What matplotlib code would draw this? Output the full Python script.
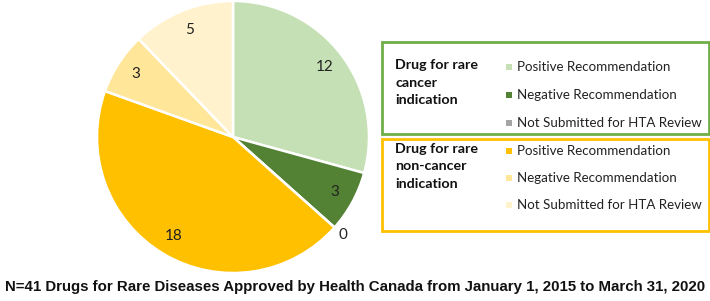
import matplotlib.pyplot as plt
from matplotlib.patches import Rectangle
import numpy as np

# slices, clockwise from 12 o'clock
values = [12, 3, 0, 18, 3, 5]
colors = ['#C5E0B4', '#548235', '#A5A5A5', '#FFC000', '#FFE699', '#FFF2CC']
groups = ['Drug for rare\ncancer\nindication', 'Drug for rare\nnon-cancer\nindication']
categories = ['Positive Recommendation', 'Negative Recommendation', 'Not Submitted for HTA Review']
box_colors = ['#70AD47', '#FFC000']
title = 'N=41 Drugs for Rare Diseases Approved by Health Canada from January 1, 2015 to March 31, 2020'

W, H = 710, 301
fig = plt.figure(figsize=(W / 100, H / 100), dpi=100)

# pie axes: center (233,137) px, radius 136 px
cx, cy, r = 233, 137, 136
ax = fig.add_axes([(cx - r) / W, (H - cy - r) / H, 2 * r / W, 2 * r / H])
wedges, texts = ax.pie(values, colors=colors, startangle=90, counterclock=False,
                       labels=[str(v) for v in values], labeldistance=0.85,
                       wedgeprops=dict(edgecolor='white', linewidth=1.8),
                       textprops=dict(fontsize=11, family='Lato', color='#222222'))
for t, v in zip(texts, values):
    t.set_ha('center')
    t.set_va('center')
    if v == 0:
        x, y = t.get_position()
        t.set_position((x * 1.27, y * 1.27))
ax.set_xlim(-1, 1)
ax.set_ylim(-1, 1)
ax.set_aspect('equal')
ax.axis('off')

def fx(px):
    return px / W

def fy(py):
    return 1 - py / H

# legend boxes
boxes = [(42, 134), (139, 231)]
rows = [[67, 95, 123], [151, 178, 205]]
for g, (top, bot), ec, rr, cols in zip(groups, boxes, box_colors, rows, [colors[:3], colors[3:]]):
    fig.patches.append(Rectangle((fx(382), fy(bot)), fx(709) - fx(382), fy(top) - fy(bot),
                                 transform=fig.transFigure, fill=False, edgecolor=ec, linewidth=2))
    fig.text(fx(395), fy(rr[0] - 8), g, ha='left', va='top', fontsize=10.3,
             fontweight='bold', family='Lato', linespacing=1.55, color='#111111')
    for lab, c, yy in zip(categories, cols, rr):
        fig.patches.append(Rectangle((fx(506), fy(yy + 3)), 6 / W, 6 / H,
                                     transform=fig.transFigure, facecolor=c, edgecolor='none'))
        fig.text(fx(517), fy(yy), lab, ha='left', va='center', fontsize=9.6,
                 family='Lato', color='#222222')

fig.text(fx(355), fy(287), title, ha='center', va='center', fontsize=10.8,
         fontweight='bold', family='Liberation Sans', color='#111111')

fig.savefig('out.png', dpi=100)
